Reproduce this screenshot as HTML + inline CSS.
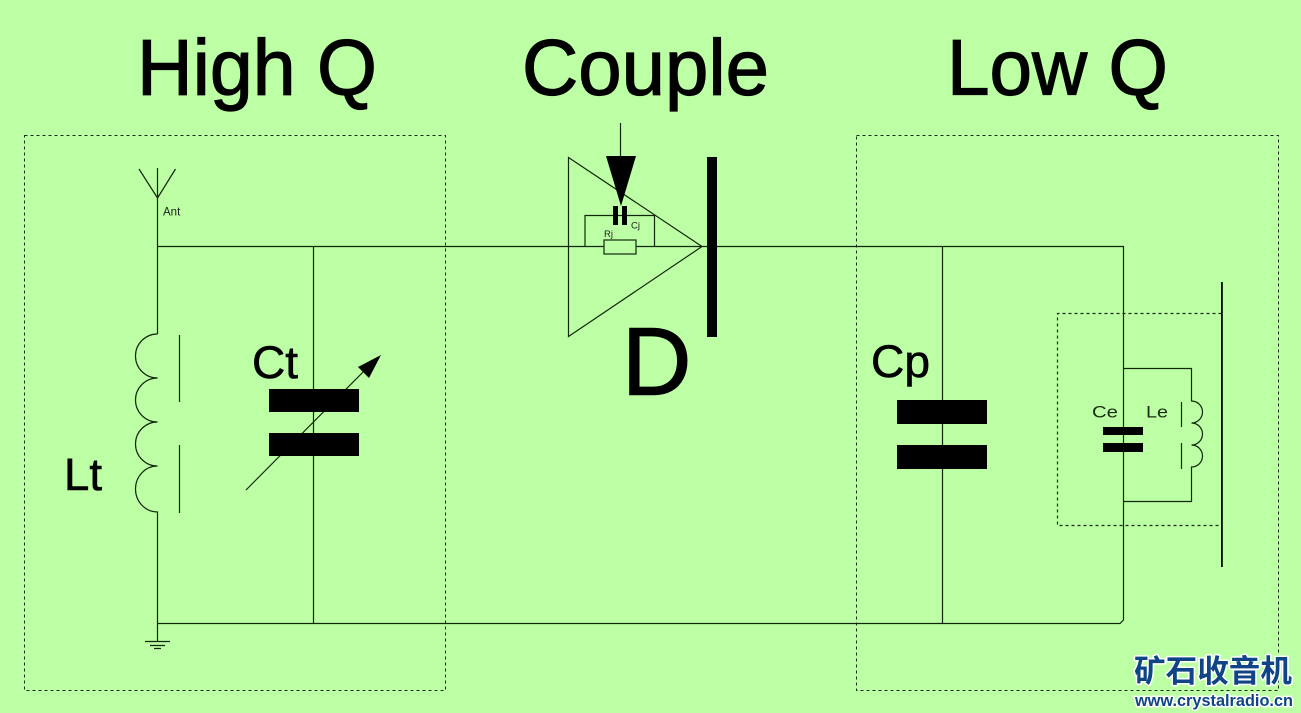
<!DOCTYPE html>
<html>
<head>
<meta charset="utf-8">
<style>
html,body{margin:0;padding:0;background:#bdffa4;width:1301px;height:713px;overflow:hidden}
svg{display:block}
text{font-family:"Liberation Sans",sans-serif;fill:#000}
.h{stroke:#000;stroke-width:1.2;font-size:79px}
.m{stroke:#000;stroke-width:.6;font-size:45px}
</style>
</head>
<body>
<svg width="1301" height="713" viewBox="0 0 1301 713" xmlns="http://www.w3.org/2000/svg">
<rect width="1301" height="713" fill="#bdffa4"/>

<text class="h" x="137" y="94.5" textLength="240" lengthAdjust="spacingAndGlyphs">High Q</text>
<text class="h" x="522" y="94.5" textLength="247" lengthAdjust="spacingAndGlyphs">Couple</text>
<text class="h" x="947" y="94.5" textLength="221" lengthAdjust="spacingAndGlyphs">Low Q</text>

<g fill="none" stroke="#1a2a14" stroke-width="1" stroke-dasharray="3 3">
<rect x="24.5" y="135.5" width="421" height="555"/>
<rect x="856.5" y="135.5" width="422" height="555"/>
<path d="M1221.5 313.5H1057.5V525.5H1221.5" stroke-width="1.2"/>
</g>

<g fill="none" stroke="#12260c" stroke-width="1.2">
<!-- antenna -->
<path d="M157.5 198L139 169M157.5 198L175.5 169M157.5 168V334"/>
<!-- top wire -->
<path d="M157.5 246.5H702M702 246.5H1123.5V620L1120 623.5H157.5"/>
<!-- coil -->
<path d="M157.5 334A22 22 0 1 0 157.5 378A22 22 0 1 0 157.5 422A22 22 0 1 0 157.5 466A22 23 0 1 0 157.5 512V641"/>
<path d="M179.5 335V402M179.5 445V513"/>
<!-- ground -->
<path d="M145 641.5H170M150 645.5H165M154 648.5H161"/>
<!-- Ct wire -->
<path d="M313.5 246.5V623"/>
<!-- Ct tune -->
<path d="M246 490L370 365"/>
<!-- Cp wire -->
<path d="M942.5 246.5V623"/>
<!-- diode triangle -->
<path d="M568.5 157.5L702 246.5L568.5 336.5Z"/>
<!-- signal -->
<path d="M620.5 123V160"/>
<!-- Cj/Rj network -->
<path d="M585 246V215.5H654.5V246"/>
<rect x="604" y="240" width="32" height="14" fill="#bdffa4"/>
<!-- Le tank -->
<path d="M1123.5 368.5H1191.5V401A11 11 0 1 1 1191.5 423A11 11 0 1 1 1191.5 445A11 11 0 1 1 1191.5 467V501.5H1123.5"/>
<path d="M1181.5 402V427M1181.5 443V469"/>
</g>

<!-- Diode bar -->
<rect x="707" y="157" width="10" height="180" fill="#000"/>
<!-- signal arrow -->
<polygon points="606,156 636,156 621,206" fill="#000"/>
<!-- Cj plates -->
<rect x="613" y="206" width="5" height="19" fill="#000"/>
<rect x="622" y="206" width="5" height="19" fill="#000"/>
<!-- Ct plates -->
<rect x="269" y="389" width="90" height="23" fill="#000"/>
<rect x="269" y="433" width="90" height="23" fill="#000"/>
<polygon points="381,355 358,367 369,378" fill="#000"/>
<!-- Cp plates -->
<rect x="897" y="400" width="90" height="24" fill="#000"/>
<rect x="897" y="445" width="90" height="24" fill="#000"/>
<!-- Ce plates -->
<rect x="1103" y="427" width="40" height="8" fill="#000"/>
<rect x="1103" y="443" width="40" height="9" fill="#000"/>
<!-- output bar -->
<rect x="1221" y="282" width="1.8" height="285" fill="#000"/>

<text x="163" y="215.5" font-size="11.5" style="fill:#222">Ant</text>
<text x="604" y="237" font-size="9.5" style="fill:#222">Rj</text>
<text x="631" y="228.5" font-size="9.5" style="fill:#222">Cj</text>
<text class="m" x="64" y="490" textLength="38" lengthAdjust="spacingAndGlyphs">Lt</text>
<text class="m" x="252" y="378" textLength="46" lengthAdjust="spacingAndGlyphs">Ct</text>
<text class="m" x="871" y="377" textLength="59" lengthAdjust="spacingAndGlyphs">Cp</text>
<text x="622" y="394.5" font-size="96" style="stroke:#000;stroke-width:1.4">D</text>
<text x="1092" y="417.5" font-size="17" textLength="26" lengthAdjust="spacingAndGlyphs" style="fill:#1a2a14">Ce</text>
<text x="1146" y="417.5" font-size="17" textLength="22" lengthAdjust="spacingAndGlyphs" style="fill:#1a2a14">Le</text>

<!-- watermark -->
<text x="1134" y="682" font-size="31" font-weight="bold" textLength="158" lengthAdjust="spacingAndGlyphs" stroke="#ffffff" stroke-width="3" stroke-linejoin="round" style="font-family:'Liberation Sans','Noto Sans CJK SC',sans-serif;fill:#0f4586;paint-order:stroke">矿石收音机</text>
<text x="1135" y="706" font-size="17" font-weight="bold" textLength="158" lengthAdjust="spacingAndGlyphs" stroke="#ffffff" stroke-width="3" stroke-linejoin="round" style="fill:#0f4586;paint-order:stroke">www.crystalradio.cn</text>
</svg>
</body>
</html>
